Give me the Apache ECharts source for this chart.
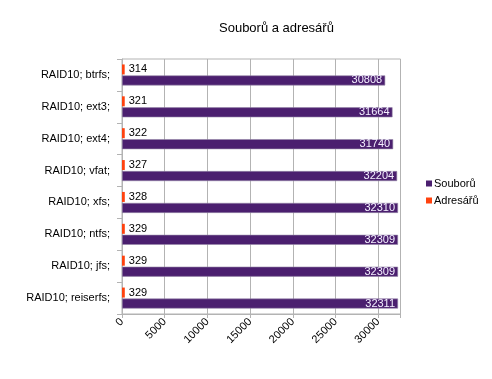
<!DOCTYPE html>
<html>
<head>
<meta charset="utf-8">
<script src="https://cdn.jsdelivr.net/npm/echarts@6/dist/echarts.min.js"></script>
<style>html,body{margin:0;padding:0;background:#fff;}#c{width:492px;height:379px;}</style>
</head>
<body>
<div id="c"></div>
<script>
const categories = ['RAID10; btrfs;', 'RAID10; ext3;', 'RAID10; ext4;', 'RAID10; vfat;', 'RAID10; xfs;', 'RAID10; ntfs;', 'RAID10; jfs;', 'RAID10; reiserfs;'];
const soubory = [30808, 31664, 31740, 32204, 32310, 32309, 32309, 32311];
const adresare = [314, 321, 322, 327, 328, 329, 329, 329];
const xTicks = [0, 5000, 10000, 15000, 20000, 25000, 30000];

const FONT = 'Liberation Sans';
const chart = echarts.init(document.getElementById('c'));
chart.setOption({
  animation: false,
  backgroundColor: '#ffffff',
  textStyle: { fontFamily: FONT },
  title: {
    text: 'Souborů a adresářů',
    left: 214, top: 17,
    textStyle: { fontFamily: FONT, fontSize: 13, fontWeight: 'normal', color: '#000' }
  },
  legend: {
    orient: 'vertical',
    left: 421, top: 173,
    itemWidth: 6, itemHeight: 6, itemGap: 6,
    icon: 'rect',
    itemStyle: { borderWidth: 0 },
    data: ['Souborů', 'Adresářů'],
    textStyle: { fontFamily: FONT, fontSize: 11, color: '#000', padding: [0, 0, 0, -3] }
  },
  grid: {
    left: 122, right: 91.5, top: 59, bottom: 65,
    show: true, borderColor: '#b3b3b3', borderWidth: 1
  },
  xAxis: {
    type: 'value', min: 0, max: 32600, interval: 5000,
    axisLine: { show: true, lineStyle: { color: '#b3b3b3' } },
    axisTick: { show: true, length: 4, lineStyle: { color: '#b3b3b3' } },
    splitLine: { show: true, lineStyle: { color: '#b3b3b3' } },
    axisLabel: {
      rotate: 45, margin: 6, fontSize: 11, color: '#000', fontFamily: FONT,
      formatter: v => xTicks.indexOf(v) >= 0 ? String(v) : ''
    }
  },
  yAxis: {
    type: 'category', data: categories, inverse: true,
    axisLine: { show: true, lineStyle: { color: '#b3b3b3' } },
    axisTick: { show: true, length: 5, lineStyle: { color: '#b3b3b3' } },
    axisLabel: { margin: 12, fontSize: 11, color: '#000', fontFamily: FONT }
  },
  series: [
    {
      name: 'Adresářů', type: 'bar', data: adresare,
      barWidth: 10, barGap: '10%', barCategoryGap: '35%',
      itemStyle: { color: '#ff420e' },
      label: { show: true, position: 'right', distance: 4, fontSize: 11, color: '#000', fontFamily: FONT }
    },
    {
      name: 'Souborů', type: 'bar', data: soubory,
      barWidth: 10,
      itemStyle: { color: '#4b1f6f', borderColor: '#9586a8', borderWidth: 0.6 },
      label: { show: true, position: 'insideRight', distance: 3, fontSize: 11, color: '#f4f0ff', fontFamily: FONT }
    }
  ]
});
</script>
</body>
</html>
